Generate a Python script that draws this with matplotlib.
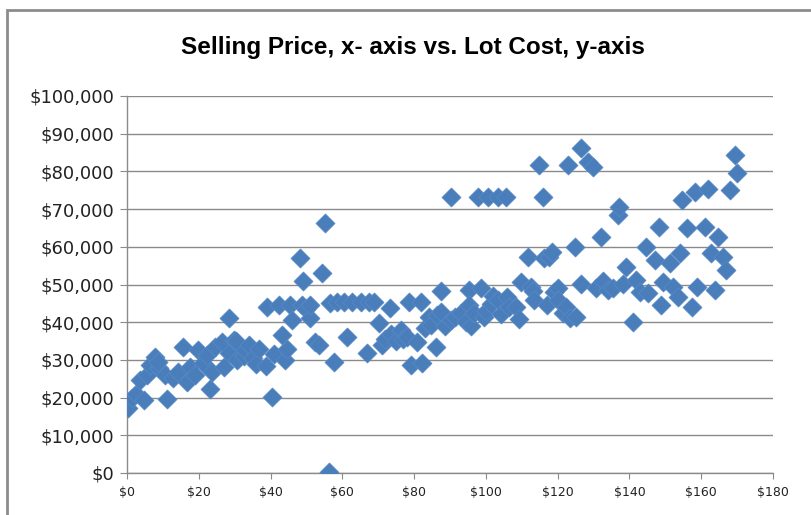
import numpy as np
import matplotlib
matplotlib.use("Agg")
import matplotlib.pyplot as plt
from matplotlib.patches import Rectangle
from matplotlib.ticker import FuncFormatter, MultipleLocator

# selling price ($) and lot cost ($ thousands)
price = [0.4, 1.3, 2.5, 4.6, 3.6, 5.5, 6.4, 7.8, 8.8, 8.5, 10.6, 11.1, 12.9, 14.3, 15.7,
         16.7, 17.6, 19.9, 19.0, 21.3, 23.2, 22.3, 24.6, 23.7, 26.4, 26.9, 28.3, 28.5, 29.7, 30.6,
         30.3, 32.5, 33.0, 34.0, 35.0, 36.0, 36.7, 38.8, 39.0, 40.3, 41.0, 42.3, 43.2, 44.1, 44.5,
         45.5, 46.0, 48.3, 48.8, 49.0, 50.0, 51.1, 51.1, 52.5, 53.5, 54.4, 55.3, 56.2, 56.7, 57.6,
         58.6, 60.4, 61.4, 62.8, 65.1, 67.4, 67.0, 68.8,
         70.2, 71.0, 72.0, 73.3, 73.5, 75.0, 76.3, 77.0, 78.1, 78.6, 79.2, 80.9, 81.8, 82.3, 83.0,
         84.2, 84.6, 86.0, 86.5, 87.4, 87.4, 88.5, 90.4, 90.2, 91.5, 93.0, 94.5, 95.3, 95.3, 95.8,
         96.6, 97.7, 98.6, 99.5, 100.5, 100.0, 101.4, 102.0, 103.3, 103.3, 104.2, 105.6, 106.0, 106.5,
         108.4, 109.3, 109.8, 111.6, 112.6, 113.0, 113.5, 114.7, 115.8, 116.3, 117.0, 117.7, 118.4,
         119.0, 120.0, 120.0, 121.5, 122.3, 122.8, 123.5, 124.7, 125.1, 126.5, 126.5, 128.4, 129.8,
         130.7, 132.1, 132.6, 134.0, 135.4, 136.8, 137.2, 138.2, 139.0, 141.0, 141.9, 143.0, 144.7,
         145.2, 147.0, 148.2, 148.9, 149.4, 151.2, 152.2, 153.6, 154.0, 154.7, 155.9, 157.3, 158.2,
         158.7, 161.0, 161.9, 162.8, 163.8, 164.7, 166.1, 167.0, 168.0, 169.4, 170.0]
lot_cost = [17.2, 19.8, 21.0, 19.4, 24.7, 26.0, 28.6, 30.9, 27.8, 29.5, 26.0, 19.5, 25.1, 26.9, 33.5,
            24.2, 28.2, 32.6, 26.0, 29.1, 22.2, 31.3, 33.5, 26.9, 34.8, 28.2, 31.7, 41.0, 35.3, 30.0,
            34.9, 31.0, 32.5, 34.0, 30.5, 28.8, 32.8, 28.4, 44.1, 20.1, 31.5, 44.6, 36.6, 30.0, 33.0,
            44.6, 40.6, 57.0, 44.6, 51.0, 43.5, 41.0, 44.6, 34.8, 34.0, 53.0, 66.2, 0.3, 45.0, 29.5,
            45.4, 45.4, 36.0, 45.4, 45.4, 45.4, 31.7, 45.4,
            39.7, 34.0, 35.5, 43.7, 37.0, 35.0, 37.9, 35.5, 36.2, 45.3, 28.6, 34.8, 45.4, 29.1, 38.5,
            41.5, 39.3, 33.5, 42.0, 48.3, 42.8, 39.0, 73.3, 40.6, 41.5, 42.4, 40.0, 48.5, 44.6, 39.0,
            42.4, 73.3, 49.2, 41.5, 73.3, 43.0, 44.9, 47.0, 73.3, 45.9, 42.1, 73.3, 46.8, 44.0,
            44.1, 40.9, 50.7, 57.2, 49.4, 48.3, 46.0, 81.7, 73.3, 56.9, 44.6, 57.4, 58.7,
            48.0, 49.2, 45.9, 42.5, 44.1, 81.7, 41.0, 59.9, 41.5, 86.1, 50.1, 82.6, 81.2,
            49.2, 62.5, 51.0, 48.5, 49.2, 68.4, 70.6, 50.1, 54.7, 40.1, 51.2, 48.0, 60.0,
            47.7, 56.5, 65.2, 44.6, 50.7, 55.6, 49.4, 46.8, 58.3, 72.4, 64.9, 44.1, 74.6,
            49.4, 65.2, 75.3, 58.3, 48.5, 62.7, 57.4, 53.8, 75.1, 84.3, 79.5]

x_ticks = np.arange(0, 181, 20)
y_ticks = np.arange(0, 100001, 10000)

fig = plt.figure(figsize=(8.11, 5.15), dpi=100)
fig.patch.set_facecolor("white")

# chart area border (runs off the right/bottom edge in the original)
fig.patches.append(Rectangle((7 / 811, -0.2), 1.2, 1.2 - 10 / 515,
                             transform=fig.transFigure, fill=False,
                             edgecolor="#8c8c8c", linewidth=2.0))

ax = fig.add_axes([127 / 811, 42 / 515, 646 / 811, 377 / 515])
ax.scatter(price, np.array(lot_cost) * 1000, marker="D", s=9.8 ** 2,
           color="#4a7ebb", edgecolors="#5a8ccc", linewidths=0.4, zorder=3)

ax.set_xlim(0, 180)
ax.set_ylim(0, 100000)
ax.set_xticks(x_ticks)
ax.set_yticks(y_ticks)
ax.xaxis.set_major_formatter(FuncFormatter(lambda v, p: "${:,.0f}".format(v)))
ax.yaxis.set_major_formatter(FuncFormatter(lambda v, p: "${:,.0f}".format(v)))
ax.grid(axis="y", color="#8a8a8a", linewidth=1.0, zorder=0)
ax.set_axisbelow(True)

for s in ["top", "right"]:
    ax.spines[s].set_visible(False)
for s in ["left", "bottom"]:
    ax.spines[s].set_color("#8a8a8a")
    ax.spines[s].set_linewidth(1.0)

ax.tick_params(axis="y", length=5, color="#8a8a8a", labelsize=13, labelcolor="#222222", pad=4)
ax.tick_params(axis="x", length=4, color="#8a8a8a", labelsize=9, labelcolor="#222222", pad=5)

fig.text(0.509, 0.907, "Selling Price, x- axis vs. Lot Cost, y-axis",
         ha="center", va="center", fontsize=17.5, fontweight="bold",
         family=["Liberation Sans Narrow", "Liberation Sans", "DejaVu Sans"])

fig.savefig("out.png", dpi=100)
